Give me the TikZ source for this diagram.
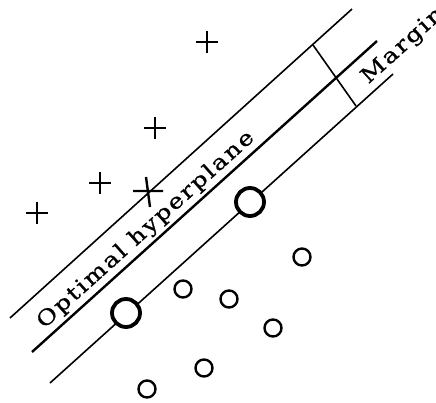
\documentclass[tikz,border=0pt]{standalone}
\usepackage{fontspec}
\newfontfamily\planefont[FakeStretch=1.2,LetterSpace=9,FakeBold=0.8]{DejaVu Serif}

\begin{document}
\begin{tikzpicture}[
x=1pt, y=-1pt,
plane/.style={
line width=1.6pt
},
hyper/.style={
line width=2.4pt
},
sv/.style={
draw,
circle,
line width=3.8pt,
minimum size=28pt,
inner sep=0pt,
fill=white
},
pt/.style={
draw,
circle,
line width=2.4pt,
minimum size=17pt,
inner sep=0pt
},
lbl/.style={
font=\planefont\fontsize{21}{24}\selectfont,
inner sep=0pt,
rotate=42
},
pics/plus/.style={
code={\draw[line width=2.8pt] (-11pt,0) -- (11pt,0) (0,-11pt) -- (0,11pt);}
}
]
\useasboundingbox (0,0) rectangle (436,403);
\clip (0,0) rectangle (436,403);

% margin lines and hyperplane
\coordinate (up1) at (10,318);
\coordinate (up2) at (352,9);
\coordinate (mid1) at (32,352);
\coordinate (mid2) at (377,41);
\coordinate (low1) at (50,383);
\coordinate (low2) at (393,74);

\draw[plane] (up1) -- (up2);
\draw[hyper] (mid1) -- (mid2);
\draw[plane] (low1) -- (low2);

% margin bar
\coordinate (bartop) at (313,45);
\coordinate (barbot) at (356,106);
\draw[plane] (bartop) -- (barbot);

% labels
\node[lbl] (hyplabel) at (146,230) {Optimal hyperplane};
\node[lbl] (marginlabel) at (403,46) {Margin};

% class +
\pic at (207,42) {plus};
\pic at (155,128) {plus};
\pic at (100,183) {plus};
\pic at (37,213) {plus};
\draw[line width=2.4pt] (133,191) -- (163,191) (146,177) -- (150,207);

% class o
\node[sv] (sv1) at (250,202) {};
\node[sv] (sv2) at (126,313) {};
\foreach \px/\py [count=\i] in {302/257, 183/289, 229/299, 273/328, 204/368, 147/389}
  \node[pt] (o\i) at (\px,\py) {};

\end{tikzpicture}
\end{document}
